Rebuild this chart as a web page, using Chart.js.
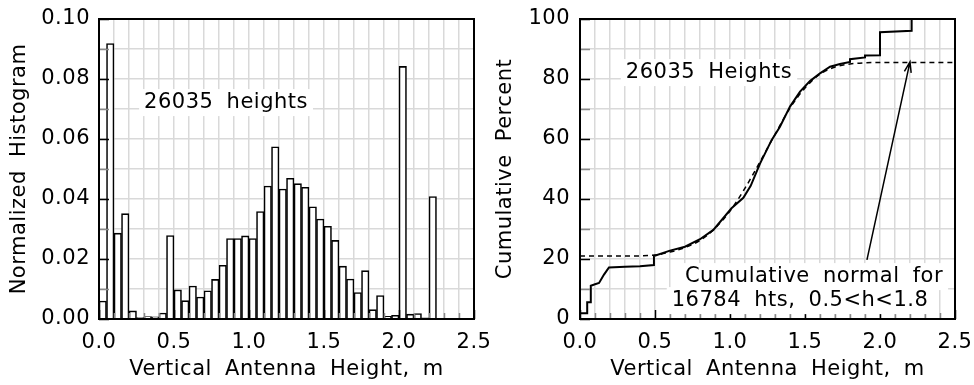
<!DOCTYPE html>
<html><head><meta charset="utf-8">
<script src="https://cdn.jsdelivr.net/npm/chart.js@4/dist/chart.umd.min.js"></script>
<style>
html,body{margin:0;padding:0;background:#fff;width:974px;height:385px;overflow:hidden}
canvas{position:absolute;top:0}
#l{left:0}#r{left:487px}
</style></head><body>
<canvas id="l" width="500" height="385"></canvas>
<canvas id="r" width="487" height="385"></canvas>
<script>
// ---- data ----
const binCenters = [0.025,0.075,0.125,0.175,0.225,0.275,0.325,0.375,0.425,0.475,
  0.525,0.575,0.625,0.675,0.725,0.775,0.825,0.875,0.925,0.975,
  1.025,1.075,1.125,1.175,1.225,1.275,1.325,1.375,1.425,1.475,
  1.525,1.575,1.625,1.675,1.725,1.775,1.825,1.875,1.925,1.975,
  2.025,2.075,2.125,2.175,2.225];
const histValues = [0.0060,0.0918,0.0286,0.0351,0.0027,0.0005,0.0008,0.0007,0.0020,0.0278,
  0.0097,0.0061,0.0110,0.0073,0.0094,0.0132,0.0179,0.0268,0.0268,0.0277,
  0.0268,0.0358,0.0443,0.0574,0.0433,0.0469,0.0451,0.0439,0.0374,0.0333,
  0.0309,0.0262,0.0176,0.0133,0.0088,0.0161,0.0031,0.0078,0.0009,0.0012,
  0.0842,0.0016,0.0018,0.0004,0.0408];
const cumX = [0.000,0.048,0.048,0.072,0.072,0.100,0.127,0.160,0.193,0.300,0.400,0.493,0.493,
  0.600,0.700,0.800,0.889,1.010,1.089,1.138,1.200,1.278,1.333,1.400,1.467,1.533,1.600,
  1.667,1.733,1.800,1.800,1.900,1.900,2.000,2.000,2.211,2.211,2.500];
const cumY = [1.9,1.9,5.6,5.6,11.1,11.6,12.0,14.8,17.2,17.4,17.6,18.0,21.0,
  22.8,24.1,26.6,29.7,36.9,40.4,44.4,51.8,59.7,64.1,70.8,75.8,79.3,81.9,
  84.1,85.0,85.7,86.6,87.2,87.8,87.9,95.6,96.1,100,100];
const normX = [0.0,0.3,0.5,0.6,0.7,0.8,0.9,1.0,1.1,1.2,1.3,1.4,1.5,1.6,1.7,1.8,1.9,2.0,2.5];
const normY = [21.0,21.0,21.3,22.3,23.8,26.2,30.2,36.0,43.6,52.4,61.5,70.3,77.0,81.6,84.0,85.0,85.4,85.5,85.5];
const xTickLabels = ['0.0','0.5','1.0','1.5','2.0','2.5'];
const histTickLabels = ['0.00','0.02','0.04','0.06','0.08','0.10'];
const cumTickLabels = ['0','20','40','60','80','100'];
const xTitle = 'Vertical Antenna Height, m';
const histTitle = 'Normalized Histogram';
const cumTitle = 'Cumulative Percent';
const histNote = '26035 heights';
const cumNote = '26035 Heights';
const normNote1 = 'Cumulative normal for';
const normNote2 = '16784 hts, 0.5<h<1.8';

// ---- style ----
const FONT = 'DejaVu Sans';
Chart.defaults.font.family = FONT;
Chart.defaults.font.size = 21;
Chart.defaults.color = '#000';
const GRID = '#d9d9d9';

function spacing(ctx){
  if ('letterSpacing' in ctx) ctx.letterSpacing = '0.5px';
  if ('wordSpacing' in ctx) ctx.wordSpacing = '6px';
}

const decor = {
  id: 'decor',
  beforeUpdate(chart){ spacing(chart.ctx); },
  beforeLayout(chart){ spacing(chart.ctx); },
  beforeDraw(chart){ spacing(chart.ctx); },
  afterDatasetsDraw(chart, args, opts){
    const {ctx, chartArea: a, scales: {x, y}} = chart;
    ctx.save();
    spacing(ctx);
    ctx.lineWidth = 1.5;
    x.ticks.forEach(t => {
      const px = Math.round(x.getPixelForValue(t.value)) + 0.5;
      const major = t.label !== '';
      ctx.strokeStyle = major ? '#000' : '#8a8a8a';
      ctx.beginPath(); ctx.moveTo(px, a.bottom); ctx.lineTo(px, a.bottom - (major ? 9 : 6)); ctx.stroke();
    });
    y.ticks.forEach(t => {
      const py = Math.round(y.getPixelForValue(t.value)) + 0.5;
      const major = t.label !== '';
      ctx.strokeStyle = major ? '#000' : '#8a8a8a';
      ctx.beginPath(); ctx.moveTo(a.left, py); ctx.lineTo(a.left + 10, py); ctx.stroke();
    });
    ctx.font = '21px "' + FONT + '"';
    ctx.textAlign = 'center';
    ctx.textBaseline = 'middle';
    (opts.notes || []).forEach(n => {
      const px = x.getPixelForValue(n.x), py = y.getPixelForValue(n.y);
      const w = ctx.measureText(n.text).width;
      ctx.fillStyle = '#fff';
      ctx.fillRect(px - w/2 - 5, py - 13, w + 10, 27);
      ctx.fillStyle = '#000';
      ctx.fillText(n.text, px, py);
    });
    if (opts.arrow) {
      const r = opts.arrow;
      const x1 = x.getPixelForValue(r.x1), y1 = y.getPixelForValue(r.y1);
      const x2 = x.getPixelForValue(r.x2), y2 = y.getPixelForValue(r.y2);
      const ang = Math.atan2(y2 - y1, x2 - x1);
      ctx.strokeStyle = '#000'; ctx.lineWidth = 1.5;
      ctx.beginPath(); ctx.moveTo(x1, y1); ctx.lineTo(x2, y2);
      const L = 11, s = 0.32;
      ctx.moveTo(x2 - L*Math.cos(ang - s), y2 - L*Math.sin(ang - s));
      ctx.lineTo(x2, y2);
      ctx.lineTo(x2 - L*Math.cos(ang + s), y2 - L*Math.sin(ang + s));
      ctx.stroke();
    }
    ctx.strokeStyle = '#000'; ctx.lineWidth = 2;
    ctx.strokeRect(a.left, a.top, a.right - a.left, a.bottom - a.top);
    ctx.restore();
  }
};

function xScale(){
  return {
    type: 'linear', min: 0, max: 2.5, offset: false,
    grid: {color: GRID, lineWidth: 1.5, drawTicks: false, offset: false},
    border: {display: true, color: '#000', width: 2},
    ticks: {stepSize: 0.1, autoSkip: false, maxRotation: 0, padding: 11,
      callback: v => xTickLabels.includes(v.toFixed(1)) ? v.toFixed(1) : ''},
    title: {display: true, text: xTitle, padding: {top: 0, bottom: 3}},
    afterFit: s => { s.height = 66; s.paddingLeft = 0; s.paddingRight = 0; }
  };
}

new Chart(document.getElementById('l'), {
  type: 'bar',
  data: {datasets: [{
    data: binCenters.map((c, i) => ({x: c, y: histValues[i]})),
    backgroundColor: '#fff', borderColor: '#000', borderWidth: 1.6,
    barPercentage: 1, categoryPercentage: 1, borderSkipped: 'start'
  }]},
  options: {
    responsive: false, animation: false, devicePixelRatio: 1,
    layout: {padding: {top: 19, right: 26, left: 0, bottom: 0}},
    plugins: {legend: {display: false}, tooltip: {enabled: false},
      decor: {notes: [{text: histNote, x: 0.847, y: 0.0723}]}},
    scales: {
      x: xScale(),
      y: {
        type: 'linear', min: 0, max: 0.1,
        grid: {color: GRID, lineWidth: 1.5, drawTicks: false},
        border: {display: true, color: '#000', width: 2},
        ticks: {stepSize: 0.01, autoSkip: false, padding: 9,
          callback: v => histTickLabels.includes(v.toFixed(2)) ? v.toFixed(2) : ''},
        title: {display: true, text: histTitle, padding: {top: 7, bottom: 0}},
        afterFit: s => { s.width = 99; s.paddingTop = 0; s.paddingBottom = 0; }
      }
    }
  },
  plugins: [decor]
});

new Chart(document.getElementById('r'), {
  type: 'line',
  data: {datasets: [
    {data: cumX.map((v, i) => ({x: v, y: cumY[i]})), borderColor: '#000', borderWidth: 2,
      pointRadius: 0, tension: 0, fill: false},
    {data: normX.map((v, i) => ({x: v, y: normY[i]})), borderColor: '#000', borderWidth: 1.5,
      borderDash: [5, 4], pointRadius: 0, cubicInterpolationMode: 'monotone', fill: false}
  ]},
  options: {
    responsive: false, animation: false, devicePixelRatio: 1,
    layout: {padding: {top: 19, right: 19, left: 0, bottom: 0}},
    plugins: {legend: {display: false}, tooltip: {enabled: false},
      decor: {
        notes: [
          {text: cumNote, x: 0.86, y: 82.3},
          {text: normNote1, x: 1.56, y: 14.3},
          {text: normNote2, x: 1.467, y: 6.3}
        ],
        arrow: {x1: 1.913, y1: 19.7, x2: 2.2, y2: 85.7}
      }},
    scales: {
      x: xScale(),
      y: {
        type: 'linear', min: 0, max: 100,
        grid: {color: GRID, lineWidth: 1.5, drawTicks: false},
        border: {display: true, color: '#000', width: 2},
        ticks: {stepSize: 10, autoSkip: false, padding: 10,
          callback: v => cumTickLabels.includes(String(Math.round(v))) ? String(Math.round(v)) : ''},
        title: {display: true, text: cumTitle, padding: {top: 6, bottom: 0}},
        afterFit: s => { s.width = 93; s.paddingTop = 0; s.paddingBottom = 0; }
      }
    }
  },
  plugins: [decor]
});
</script>
</body></html>
